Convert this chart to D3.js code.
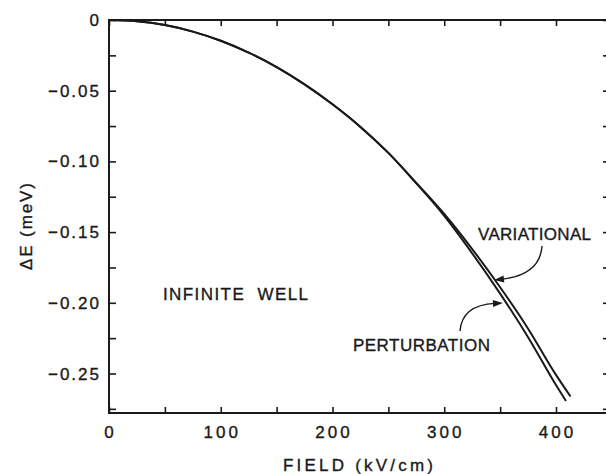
<!DOCTYPE html>
<html>
<head>
<meta charset="utf-8">
<script src="https://cdn.jsdelivr.net/npm/d3@7"></script>
<style>
  body { margin: 0; background: #fff; }
  svg { display: block; }
  text { font-family: "Liberation Sans", Arial, sans-serif; fill: #1a1a1a; stroke: #1a1a1a; stroke-width: 0.35px; }
</style>
</head>
<body>
<svg id="chart" width="606" height="474"></svg>
<script>
// ---- data ----
const fieldPerturbation = [0, 25, 50, 75, 100, 125, 150, 175, 200, 225, 250, 275, 300, 325, 350, 375, 400, 408.9];
const energyPerturbation = [0, -0.0009, -0.0036, -0.0082, -0.0147, -0.0231, -0.0333, -0.0455, -0.0596, -0.0756, -0.0940, -0.1155, -0.1385, -0.1650, -0.1935, -0.2243, -0.2582, -0.2694];
const fieldVariational = [0, 25, 50, 75, 100, 125, 150, 175, 200, 225, 250, 275, 300, 325, 350, 375, 400, 413];
const energyVariational = [0, -0.0009, -0.0036, -0.0082, -0.0147, -0.0231, -0.0333, -0.0455, -0.0596, -0.0756, -0.0940, -0.1153, -0.1372, -0.1620, -0.1890, -0.2183, -0.2510, -0.2663];

const xTickLabels = [0, 100, 200, 300, 400];
const xTickMarks = [0, 50, 100, 150, 200, 250, 300, 350, 400];
const yTickLabels = [0, -0.05, -0.10, -0.15, -0.20, -0.25];
const yTickLabelText = ["0", "\u22120.05", "\u22120.10", "\u22120.15", "\u22120.20", "\u22120.25"];
const yTickMarks = [0, -0.025, -0.05, -0.075, -0.10, -0.125, -0.15, -0.175, -0.20, -0.225, -0.25, -0.275];

const xTitle = "FIELD (kV/cm)";
const yTitle = "\u0394E (meV)";

// annotations in data units
const labelVariational = { text: "VARIATIONAL", F: 330.2, E: -0.1556, len: 113 };
const labelPerturbation = { text: "PERTURBATION", F: 218.3, E: -0.2341, len: 137 };
const labelWell = { text: "INFINITE  WELL", F: 48.3, E: -0.198, len: 145 };
const arrowVariational = { start: [387.5, -0.1598], ctrl: [385.7, -0.1803], tip: [344.5, -0.1839] };
const arrowPerturbation = { start: [314.1, -0.2199], ctrl: [315.9, -0.2016], tip: [352.5, -0.2001] };

// ---- scales ----
const x = d3.scaleLinear().domain([0, 400]).range([109, 556]);
const y = d3.scaleLinear().domain([0, -0.25]).range([20, 373.5]);
const xMin = 0, xMax = x.invert(609);
const yMax = 0, yMin = y.invert(413);

const svg = d3.select("#chart");
const ink = "#1a1a1a";

// ---- tick marks (inward) ----
function styleTicks(g) {
  g.select(".domain").remove();
  g.selectAll(".tick line").attr("stroke", ink).attr("stroke-width", 1.6);
  g.selectAll(".tick text").remove();
}
svg.append("g").attr("transform", `translate(0,${y(yMin)})`)
  .call(d3.axisBottom(x).tickValues(xTickMarks).tickSize(-6).tickFormat(""))
  .call(styleTicks);
svg.append("g").attr("transform", `translate(0,${y(yMax)})`)
  .call(d3.axisTop(x).tickValues(xTickMarks).tickSize(-6).tickFormat(""))
  .call(styleTicks);
svg.append("g").attr("transform", `translate(${x(xMin)},0)`)
  .call(d3.axisLeft(y).tickValues(yTickMarks).tickSize(-7).tickFormat(""))
  .call(styleTicks);
svg.append("g").attr("transform", `translate(${x(xMax)},0)`)
  .call(d3.axisRight(y).tickValues(yTickMarks).tickSize(-6).tickFormat(""))
  .call(styleTicks);

// ---- frame ----
svg.append("rect")
  .attr("x", x(xMin)).attr("y", y(yMax))
  .attr("width", x(xMax) - x(xMin)).attr("height", y(yMin) - y(yMax))
  .attr("fill", "none").attr("stroke", ink).attr("stroke-width", 2);

// ---- tick labels ----
svg.append("g").selectAll("text").data(xTickLabels).join("text")
  .attr("x", d => x(d) + 1.5).attr("y", y(yMin) + 25)
  .attr("text-anchor", "middle")
  .attr("font-size", 17).attr("letter-spacing", 3)
  .text(d => d);

svg.append("g").selectAll("text").data(yTickLabels).join("text")
  .attr("x", x(xMin) - 8).attr("y", d => y(d) + 6)
  .attr("text-anchor", "end")
  .attr("font-size", 17).attr("letter-spacing", 2)
  .text((d, i) => yTickLabelText[i]);

// ---- axis titles ----
svg.append("text")
  .attr("x", 358).attr("y", 471)
  .attr("text-anchor", "middle").attr("font-size", 17)
  .attr("textLength", 150).attr("lengthAdjust", "spacing")
  .text(xTitle);
svg.append("text")
  .attr("transform", "translate(32,226.5) rotate(-90)")
  .attr("text-anchor", "middle").attr("font-size", 17)
  .attr("textLength", 87).attr("lengthAdjust", "spacing")
  .text(yTitle);

// ---- curves ----
const line = d3.line().curve(d3.curveMonotoneX).x(d => x(d[0])).y(d => y(d[1]));
const pertData = fieldPerturbation.map((f, i) => [f, energyPerturbation[i]]);
const varData = fieldVariational.map((f, i) => [f, energyVariational[i]]);
svg.append("path").datum(pertData).attr("d", line)
  .attr("fill", "none").attr("stroke", ink).attr("stroke-width", 2);
svg.append("path").datum(varData).attr("d", line)
  .attr("fill", "none").attr("stroke", ink).attr("stroke-width", 2);

// ---- annotations ----
[labelVariational, labelPerturbation, labelWell].forEach(l => {
  svg.append("text")
    .attr("x", x(l.F)).attr("y", y(l.E))
    .attr("font-size", 17)
    .style("white-space", "pre")
    .attr("textLength", l.len).attr("lengthAdjust", "spacing")
    .text(l.text);
});

function drawArrow(a) {
  const p0 = [x(a.start[0]), y(a.start[1])];
  const c = [x(a.ctrl[0]), y(a.ctrl[1])];
  const t = [x(a.tip[0]), y(a.tip[1])];
  const dx = t[0] - c[0], dy = t[1] - c[1];
  const n = Math.hypot(dx, dy);
  const ux = dx / n, uy = dy / n;
  const L = 10, W = 3.5;
  const b = [t[0] - ux * L, t[1] - uy * L];
  const p = d3.path();
  p.moveTo(p0[0], p0[1]);
  p.quadraticCurveTo(c[0], c[1], b[0] + ux * 2, b[1] + uy * 2);
  svg.append("path").attr("d", p.toString())
    .attr("fill", "none").attr("stroke", ink).attr("stroke-width", 1.4);
  svg.append("path")
    .attr("d", `M${t[0]},${t[1]}L${b[0] - uy * W},${b[1] + ux * W}L${b[0] + uy * W},${b[1] - ux * W}Z`)
    .attr("fill", ink);
}
drawArrow(arrowVariational);
drawArrow(arrowPerturbation);
</script>
</body>
</html>
